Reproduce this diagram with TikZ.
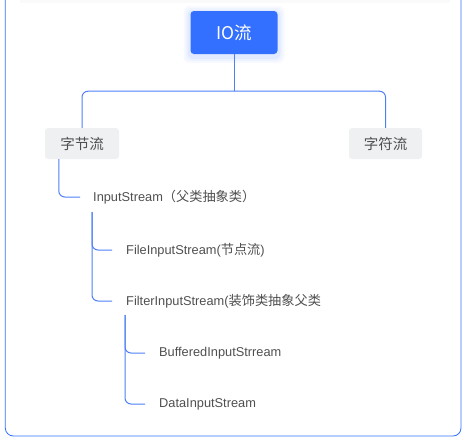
\documentclass[tikz,border=0pt]{standalone}
\usepackage{fontspec}
\setmainfont{Liberation Sans}
\newfontfamily\cjk{Noto Sans CJK SC}
\usetikzlibrary{calc}
\definecolor{mblue}{HTML}{3370FF}
\definecolor{lblue}{HTML}{4D7FF7}
\definecolor{boxgray}{HTML}{EFF0F2}
\definecolor{txt}{HTML}{4F4F4F}
\tikzset{
  rootbox/.style={fill=mblue, text=white, rounded corners=3.5pt, minimum width=87pt, minimum height=43pt, inner sep=0pt, font=\cjk\fontsize{17.5}{20}\selectfont},
  catbox/.style={fill=boxgray, text=txt, rounded corners=3pt, minimum height=31pt, inner sep=0pt, font=\cjk\fontsize{14.5}{17}\selectfont},
  leaf/.style={anchor=west, inner sep=0pt, text=txt, font=\fontsize{12.8}{15}\selectfont},
  conn/.style={draw=lblue, line width=1pt, rounded corners=6pt},
}
\newcommand{\zhtxt}[1]{{\cjk\fontsize{13.2}{15}\selectfont #1}}
\begin{document}
\begin{tikzpicture}[x=1pt,y=-1pt]
\useasboundingbox (0,0) rectangle (466,440);
\begin{scope}
\clip (0,0) rectangle (466,440);
\fill[black!2] (20,0) rectangle (450,3);
\draw[mblue, line width=0.8pt, rounded corners=8pt] (5.3,-20) rectangle (461,436);
% glow under root
\foreach \d/\o in {7/0.04,5/0.05,3/0.07}{
  \fill[mblue, opacity=\o, rounded corners=6pt] (190.5-\d,11-\d+2) rectangle (277.5+\d,54+\d+2);
}
\end{scope}
\node[rootbox] (io) at (234,32.5) {IO流};
\node[catbox, minimum width=74pt] (zj) at (82,143.5) {字节流};
\node[catbox, minimum width=73pt] (zf) at (385.5,143.5) {字符流};
\node[leaf] (in) at (93,197) {InputStream\zhtxt{（父类抽象类）}};
\node[leaf] (fis) at (126,250) {FileInputStream(\zhtxt{节点流})};
\node[leaf] (fil) at (126,301) {FilterInputStream(\zhtxt{装饰类抽象父类}};
\node[leaf] (buf) at (159,353) {BufferedInputStrream};
\node[leaf] (dat) at (159,404) {DataInputStream};
% top connectors
\coordinate (j) at ($(io.south)+(0,37)$);
\draw[conn] (io.south) -- (j);
\draw[conn] (j) -| (zj.north);
\draw[conn] (j) -| (zf.north);
% tree connectors
\draw[conn] ($(zj.south west)+(14,0)$) |- ($(in.west)+(-13,0)$);
\coordinate (a) at ($(in.west)+(-1,15)$);
\draw[conn] (a) |- ($(fis.west)+(-14,0)$);
\draw[conn] (a) |- ($(fil.west)+(-14,0)$);
\coordinate (b) at ($(fil.west)+(-1,14)$);
\draw[conn] (b) |- ($(buf.west)+(-14,0)$);
\draw[conn] (b) |- ($(dat.west)+(-14,0)$);
\end{tikzpicture}
\end{document}
